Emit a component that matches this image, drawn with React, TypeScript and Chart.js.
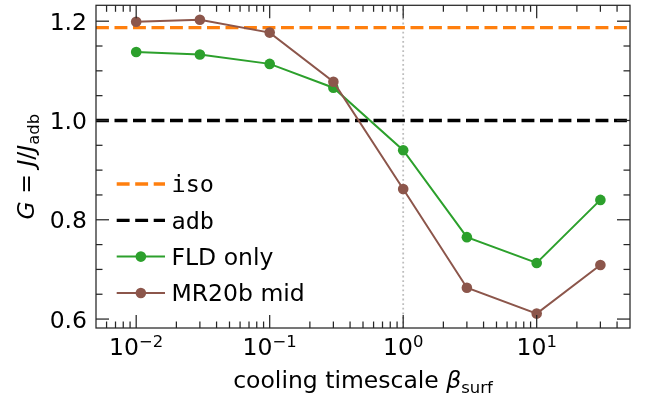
import React, { useEffect, useRef } from 'react';
import { Chart, registerables } from 'chart.js';
Chart.register(...registerables);

const W = 649;
const H = 405;

// ---- data ----
const coolingTimescale = [0.01, 0.03, 0.1, 0.3, 1, 3, 10, 30];
const fldOnly = [1.138, 1.133, 1.114, 1.066, 0.94, 0.765, 0.713, 0.84];
const mr20bMid = [1.199, 1.203, 1.177, 1.078, 0.862, 0.663, 0.611, 0.709];
const isoLevel = 1.187;
const adbLevel = 1.0;
const markerX = 1;

const xRange = [0.005, 50];
const yRange = [0.582, 1.232];

const xMajorTicks = [0.01, 0.1, 1, 10];
const xTickExponents = ['\u22122', '\u22121', '0', '1'];
const xMinorMultipliers = [2, 3, 4, 5, 6, 7, 8, 9];
const xMinorDecades = [0.001, 0.01, 0.1, 1, 10];
const yMajorTicks = [0.6, 0.8, 1.0, 1.2];
const yTickLabels = ['0.6', '0.8', '1.0', '1.2'];
const yMinorTicks = [0.65, 0.7, 0.75, 0.85, 0.9, 0.95, 1.05, 1.1, 1.15];

const legendLabels = ['iso', 'adb', 'FLD only', 'MR20b mid'];

const ORANGE = '#ff7f0e';
const GREEN = '#2ca02c';
const BROWN = '#8c564b';
const FONT = '"DejaVu Sans", sans-serif';
const MONO = '"DejaVu Sans Mono", monospace';
const FS = 23.5;
const AXIS = '#262626';

type Seg = { t: string; italic?: boolean; scale?: number; dy?: number; family?: string };

function segFont(s: Seg) {
  const size = FS * (s.scale ?? 1);
  return `${s.italic ? 'oblique ' : ''}${size}px ${s.family ?? FONT}`;
}

function drawRich(ctx: CanvasRenderingContext2D, segs: Seg[], x: number, y: number, align: 'center' | 'left' | 'right') {
  let total = 0;
  const widths = segs.map((s) => {
    ctx.font = segFont(s);
    const w = ctx.measureText(s.t).width;
    total += w;
    return w;
  });
  let cx = align === 'center' ? x - total / 2 : align === 'right' ? x - total : x;
  ctx.textAlign = 'left';
  ctx.textBaseline = 'alphabetic';
  segs.forEach((s, i) => {
    ctx.font = segFont(s);
    ctx.fillText(s.t, cx, y + (s.dy ?? 0));
    cx += widths[i];
  });
}

const decorPlugin = {
  id: 'decor',
  afterDraw(chart: any) {
    const ctx: CanvasRenderingContext2D = chart.ctx;
    const { left, right, top, bottom } = chart.chartArea;
    const xs = chart.scales.x;
    const ys = chart.scales.y;
    ctx.save();
    ctx.strokeStyle = AXIS;
    ctx.lineWidth = 1.25;
    ctx.setLineDash([]);
    ctx.strokeRect(left, top, right - left, bottom - top);

    const MAJ = 13;
    const MIN = 6.5;
    const line = (x1: number, y1: number, x2: number, y2: number) => {
      ctx.beginPath();
      ctx.moveTo(x1, y1);
      ctx.lineTo(x2, y2);
      ctx.stroke();
    };
    // x ticks
    xMajorTicks.forEach((v) => {
      const px = xs.getPixelForValue(v);
      line(px, bottom, px, bottom - MAJ);
      line(px, top, px, top + MAJ);
    });
    xMinorDecades.forEach((d) => {
      xMinorMultipliers.forEach((m) => {
        const v = m * d;
        if (v <= xRange[0] || v >= xRange[1]) return;
        const px = xs.getPixelForValue(v);
        line(px, bottom, px, bottom - MIN);
        line(px, top, px, top + MIN);
      });
    });
    // y ticks
    yMajorTicks.forEach((v) => {
      const py = ys.getPixelForValue(v);
      line(left, py, left + MAJ, py);
      line(right, py, right - MAJ, py);
    });
    yMinorTicks.forEach((v) => {
      const py = ys.getPixelForValue(v);
      line(left, py, left + MIN, py);
      line(right, py, right - MIN, py);
    });

    // tick labels
    ctx.fillStyle = '#000';
    yMajorTicks.forEach((v, i) => {
      const py = ys.getPixelForValue(v);
      drawRich(ctx, [{ t: yTickLabels[i] }], left - 9, py + 8.5, 'right');
    });
    xMajorTicks.forEach((v, i) => {
      const px = xs.getPixelForValue(v);
      drawRich(ctx, [{ t: '10' }, { t: xTickExponents[i], scale: 0.7, dy: -8.5 }], px, 355, 'center');
    });

    // axis titles
    drawRich(
      ctx,
      [{ t: 'cooling timescale ' }, { t: '\u03b2', italic: true }, { t: 'surf', scale: 0.7, dy: 5 }],
      (left + right) / 2,
      388,
      'center'
    );
    ctx.save();
    ctx.translate(34, (top + bottom) / 2);
    ctx.rotate(-Math.PI / 2);
    drawRich(
      ctx,
      [
        { t: 'G', italic: true },
        { t: ' = ' },
        { t: 'J', italic: true },
        { t: '/' },
        { t: 'J', italic: true },
        { t: 'adb', scale: 0.7, dy: 4.8 },
      ],
      0,
      0,
      'center'
    );
    ctx.restore();

    // legend
    const entries = [
      { label: legendLabels[0], color: ORANGE, dash: [12.9, 5.6], lw: 3.3, marker: false, family: MONO },
      { label: legendLabels[1], color: '#000', dash: [12.9, 5.6], lw: 3.3, marker: false, family: MONO },
      { label: legendLabels[2], color: GREEN, dash: [], lw: 2, marker: true, family: FONT },
      { label: legendLabels[3], color: BROWN, dash: [], lw: 2, marker: true, family: FONT },
    ];
    const hx1 = 116.7;
    const hx2 = 165;
    const rowY = [184, 220.3, 256.6, 293];
    entries.forEach((e, i) => {
      const y = rowY[i];
      ctx.strokeStyle = e.color;
      ctx.lineWidth = e.lw;
      ctx.lineCap = 'butt';
      ctx.setLineDash(e.dash);
      line(hx1, y, hx2, y);
      ctx.setLineDash([]);
      if (e.marker) {
        ctx.fillStyle = e.color;
        ctx.beginPath();
        ctx.arc((hx1 + hx2) / 2, y, 5.3, 0, Math.PI * 2);
        ctx.fill();
      }
      ctx.fillStyle = '#000';
      drawRich(ctx, [{ t: e.label, family: e.family }], 171.5, y + 8.2, 'left');
    });
    ctx.restore();
  },
};

export default function App() {
  const ref = useRef<HTMLCanvasElement>(null);
  useEffect(() => {
    document.body.style.margin = '0';
    const canvas = ref.current!;
    const hline = (v: number) => [
      { x: xRange[0], y: v },
      { x: xRange[1], y: v },
    ];
    const chart = new Chart(canvas, {
      type: 'line',
      data: {
        datasets: [
          {
            label: legendLabels[2],
            data: coolingTimescale.map((x, i) => ({ x, y: fldOnly[i] })),
            borderColor: GREEN,
            backgroundColor: GREEN,
            borderWidth: 2,
            pointRadius: 5.3,
            pointBorderWidth: 0,
            pointHoverRadius: 5.3,
            order: 1,
          },
          {
            label: legendLabels[3],
            data: coolingTimescale.map((x, i) => ({ x, y: mr20bMid[i] })),
            borderColor: BROWN,
            backgroundColor: BROWN,
            borderWidth: 2,
            pointRadius: 5.3,
            pointBorderWidth: 0,
            pointHoverRadius: 5.3,
            order: 0,
          },
          {
            label: legendLabels[0],
            data: hline(isoLevel),
            borderColor: ORANGE,
            borderWidth: 3.3,
            borderDash: [12.9, 5.6],
            borderCapStyle: 'butt',
            pointRadius: 0,
            order: 3,
          },
          {
            label: legendLabels[1],
            data: hline(adbLevel),
            borderColor: '#000',
            borderWidth: 3.3,
            borderDash: [12.9, 5.6],
            borderCapStyle: 'butt',
            pointRadius: 0,
            order: 2,
          },
          {
            label: 'marker',
            data: [
              { x: markerX, y: yRange[0] },
              { x: markerX, y: yRange[1] },
            ],
            borderColor: '#bdbdbd',
            borderWidth: 1.8,
            borderDash: [1.8, 2.8],
            borderCapStyle: 'butt',
            pointRadius: 0,
            order: 5,
          },
        ],
      },
      options: {
        responsive: false,
        animation: false,
        devicePixelRatio: 1,
        layout: { padding: { top: 3, right: 19, left: 0, bottom: 0 } },
        plugins: { legend: { display: false }, tooltip: { enabled: false } },
        events: [],
        scales: {
          x: {
            type: 'logarithmic',
            min: xRange[0],
            max: xRange[1],
            grid: { display: false },
            border: { display: false },
            ticks: { display: false },
            afterFit: (s: any) => {
              s.height = 77;
            },
          },
          y: {
            type: 'linear',
            min: yRange[0],
            max: yRange[1],
            grid: { display: false },
            border: { display: false },
            ticks: { display: false },
            afterFit: (s: any) => {
              s.width = 96;
            },
          },
        },
      },
      plugins: [decorPlugin],
    } as any);
    return () => chart.destroy();
  }, []);
  return <canvas ref={ref} width={W} height={H} style={{ display: 'block', width: W, height: H }} />;
}
